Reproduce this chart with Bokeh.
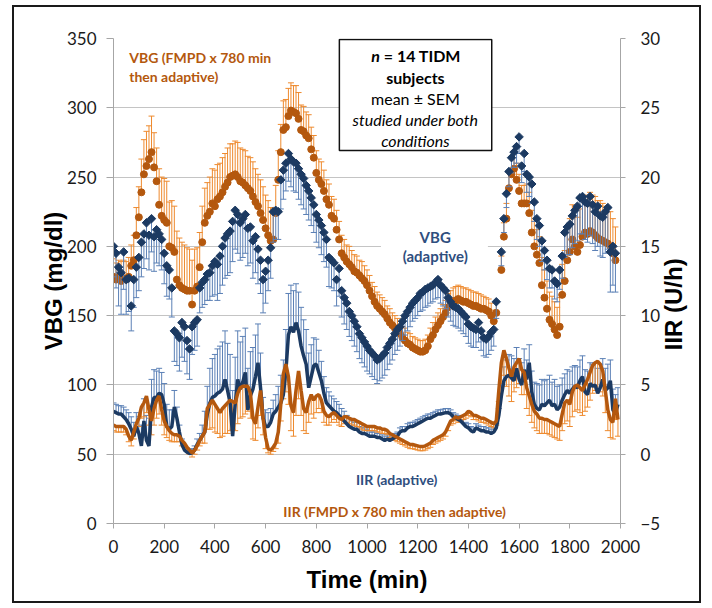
import math
from bokeh.plotting import figure
from bokeh.models import Range1d, LinearAxis, FixedTicker, Label, BoxAnnotation
from bokeh.embed import file_html
from bokeh.resources import INLINE

# ---------------- data ----------------
x_ticks = [0, 200, 400, 600, 800, 1000, 1200, 1400, 1600, 1800, 2000]
vbg_ticks = [0, 50, 100, 150, 200, 250, 300, 350]
iir_ticks = [-5, 0, 5, 10, 15, 20, 25, 30]

# VBG sampling times (min); no samples between 1510 and 1530
vbg_time = list(range(0, 1520, 10)) + list(range(1530, 1990, 10))

# VBG (FMPD x 780 min then adaptive), mg/dl
vbg_fmpd = [
    178, 176, 178, 175, 177, 176, 178, 186, 190, 208,
    221, 239, 252, 258, 263, 268, 257, 247, 230, 222,
    219, 217, 200, 199, 196, 176, 172, 170, 169, 168,
    168, 158, 168, 171, 185, 203, 217, 222, 225, 231,
    229, 234, 236, 239, 243, 246, 250, 251, 252, 250,
    247, 246, 244, 242, 240, 236, 232, 229, 224, 219,
    213, 208, 204, 205, 224, 248, 268, 284, 286, 294,
    298, 297, 296, 292, 284, 283, 280, 278, 270, 264,
    253, 248, 245, 240, 234, 230, 222, 220, 212, 205,
    195, 192, 189, 187, 185, 182, 181, 179, 177, 175,
    172, 168, 164, 160, 157, 155, 153, 151, 148, 145,
    143, 141, 139, 137, 134, 132, 130, 129, 127, 126,
    125, 124, 124, 125, 128, 133, 136, 140, 143, 146,
    149, 152, 156, 158, 160, 161, 162, 161, 160, 160,
    159, 158, 157, 157, 156, 155, 155, 154, 153, 150,
    146, 152,
    183, 207, 220, 242, 252, 256, 248, 240, 231, 231,
    231, 224, 210, 200, 194, 188, 172, 163, 155, 147,
    144, 140, 136, 142, 165, 175, 190, 196, 205, 200,
    196, 201, 207, 210, 209, 211, 210, 208, 206, 205,
    204, 203, 202, 200, 195, 190]
vbg_fmpd_sem = [
    13, 12, 12, 14, 13, 13, 14, 15, 18, 20,
    22, 24, 25, 25, 24, 26, 25, 24, 26, 28,
    30, 30, 32, 34, 33, 35, 34, 33, 32, 31,
    30, 32, 30, 28, 25, 26, 25, 24, 25, 25,
    26, 25, 24, 25, 24, 25, 24, 23, 24, 25,
    24, 24, 25, 23, 24, 25, 24, 23, 24, 24,
    24, 25, 24, 22, 20, 21, 20, 21, 20, 20,
    20, 19, 20, 19, 18, 18, 17, 17, 16, 16,
    16, 15, 16, 15, 14, 15, 14, 14, 14, 13,
    13, 13, 12, 13, 12, 12, 12, 11, 12, 11,
    11, 11, 10, 11, 10, 10, 10, 10, 9, 10,
    9, 9, 9, 9, 8, 9, 8, 8, 8, 8,
    8, 8, 8, 8, 8, 8, 9, 9, 9, 9,
    9, 9, 10, 10, 10, 10, 10, 10, 10, 10,
    10, 10, 10, 10, 10, 10, 9, 9, 9, 9,
    8, 8,
    10, 10, 11, 12, 12, 13, 12, 12, 13, 13,
    14, 15, 16, 18, 18, 19, 20, 20, 20, 20,
    20, 20, 20, 21, 22, 22, 23, 24, 25, 25,
    25, 26, 26, 27, 27, 28, 27, 28, 27, 28,
    27, 26, 26, 25, 25, 24]

# VBG (adaptive), mg/dl
vbg_adapt = [
    200, 195, 185, 181, 196, 176, 177, 157, 176, 185,
    192, 203, 209, 217, 208, 220, 207, 212, 209, 205,
    195, 186, 183, 170, 139, 137, 134, 145, 142, 132,
    126, 142, 145, 147, 170, 174, 176, 180, 181, 186,
    189, 187, 193, 200, 206, 209, 211, 218, 226, 223,
    217, 220, 223, 213, 214, 204, 207, 198, 190, 176,
    182, 190, 199, 225, 226, 225, 248, 255, 260, 267,
    263, 261, 260, 256, 252, 249, 244, 240, 235, 230,
    223, 219, 215, 210, 205, 192, 190, 188, 176, 184,
    168, 163, 159, 153, 150, 146, 142, 137, 134, 131,
    128, 125, 123, 121, 118, 119, 121, 123, 127, 130,
    133, 137, 140, 142, 146, 150, 153, 156, 159, 161,
    163, 166, 167, 169, 170, 171, 172, 174, 176, 172,
    170, 168, 163, 160, 157, 156, 155, 153, 151, 149,
    144, 142, 141, 140, 145, 139, 134, 133, 135, 138,
    140, 160,
    196, 220, 238, 254, 264, 268, 272, 279, 258, 267,
    252, 250, 245, 232, 220, 215, 204, 197, 190, 184,
    183, 175, 173, 183, 193, 210, 214, 216, 222, 226,
    229, 235, 236, 232, 231, 236, 230, 225, 229, 222,
    221, 225, 228, 196, 200, 195]
vbg_adapt_sem = [
    22, 25, 28, 30, 27, 25, 24, 18, 20, 22,
    24, 25, 25, 26, 25, 24, 25, 24, 23, 22,
    22, 22, 21, 21, 22, 23, 24, 25, 25, 24,
    22, 20, 20, 19, 18, 18, 18, 19, 20, 22,
    24, 26, 27, 28, 29, 30, 30, 29, 28, 28,
    27, 28, 28, 27, 26, 27, 26, 25, 24, 24,
    23, 22, 22, 22, 21, 20, 21, 21, 20, 20,
    20, 21, 21, 22, 22, 22, 21, 21, 20, 20,
    20, 20, 21, 21, 20, 21, 20, 20, 19, 20,
    19, 19, 19, 18, 18, 18, 18, 18, 18, 18,
    18, 17, 17, 17, 17, 16, 16, 16, 16, 15,
    15, 15, 15, 14, 14, 14, 14, 14, 13, 13,
    13, 13, 13, 13, 13, 12, 12, 12, 13, 13,
    13, 13, 14, 14, 14, 14, 14, 14, 14, 14,
    14, 14, 14, 13, 14, 14, 13, 13, 13, 13,
    12, 12,
    10, 10, 10, 11, 11, 11, 12, 12, 12, 13,
    13, 14, 14, 14, 15, 15, 15, 14, 14, 14,
    13, 13, 13, 14, 16, 18, 20, 22, 23, 24,
    25, 26, 27, 27, 28, 28, 28, 28, 29, 29,
    29, 30, 30, 29, 28, 28]

# IIR sampling times (min)
iir_time = list(range(0, 2000, 10))

# IIR (adaptive), U/h
iir_adapt = [
    3.1, 3.0, 2.9, 2.9, 2.7, 2.5, 2.2, 1.8, 1.3, 2.0,
    1.5, 0.6, 2.4, 1.0, 0.6, 3.4, 4.1, 4.1, 4.4, 4.3,
    3.6, 2.0, 1.8, 2.0, 3.4, 2.6, 1.6, 0.7, 0.3, 0.15,
    0.05, 0.1, 0.3, 0.7, 1.0, 1.3, 1.6, 2.9, 3.7, 4.1,
    4.2, 4.4, 4.5, 4.7, 5.4, 4.6, 3.7, 1.3, 3.6, 5.4,
    4.7, 5.2, 5.9, 3.2, 4.2, 4.7, 5.6, 6.6, 4.8, 2.6,
    2.0, 2.0, 2.3, 2.9, 3.1, 3.4, 3.7, 4.3, 6.0, 8.6,
    9.2, 8.8, 9.5, 8.9, 7.8, 7.1, 6.5, 4.8, 5.6, 6.4,
    6.5, 5.9, 5.3, 4.4, 3.7, 3.5, 3.3, 3.1, 3.0, 2.8,
    2.6, 2.4, 2.2, 2.0, 1.9, 1.8, 1.8, 1.6, 1.5, 1.5,
    1.4, 1.3, 1.3, 1.3, 1.2, 1.2, 1.1, 1.0, 1.1, 1.0,
    1.1, 1.2, 1.3, 1.6, 1.7, 1.7, 1.9, 2.0, 2.0, 2.1,
    2.2, 2.3, 2.4, 2.5, 2.6, 2.6, 2.7, 2.8, 2.9, 2.9,
    2.95, 3.0, 3.0, 2.9, 2.7, 2.6, 2.5, 2.4, 2.2, 2.0,
    1.9, 1.7, 1.6, 1.9, 1.8, 1.7, 1.7, 1.6, 1.6, 1.5,
    1.6, 1.9, 2.8, 4.2, 5.3, 5.6, 5.7, 5.5, 5.3, 6.2,
    5.4, 5.0, 6.1, 5.4, 6.6, 4.5, 3.6, 3.3, 3.2, 3.6,
    3.5, 3.7, 3.9, 3.5, 3.6, 3.2, 3.4, 3.9, 4.3, 4.6,
    4.4, 4.7, 4.9, 4.8, 5.3, 5.6, 4.5, 4.3, 5.1, 4.9,
    5.0, 4.4, 4.8, 5.4, 4.6, 4.8, 5.3, 3.2, 2.9, 3.6]
iir_adapt_sem = [
    0.6, 0.6, 0.6, 0.6, 0.7, 0.7, 0.8, 0.9, 1.0, 1.0,
    1.2, 1.5, 1.6, 1.8, 2.0, 2.0, 2.0, 1.9, 1.8, 1.6,
    1.5, 1.6, 1.4, 1.2, 1.2, 0.8, 0.5, 0.4, 0.3, 0.3,
    0.3, 0.3, 0.3, 0.4, 0.5, 0.8, 1.5, 2.0, 2.5, 2.8,
    3.0, 3.2, 3.3, 3.4, 3.5, 3.4, 3.5, 3.3, 3.4, 3.5,
    3.4, 3.3, 3.2, 3.0, 3.2, 3.0, 3.0, 2.8, 2.5, 1.5,
    1.2, 1.0, 1.0, 1.0, 1.2, 1.5, 2.0, 2.5, 3.0, 3.0,
    3.0, 3.0, 2.8, 2.8, 2.8, 2.6, 2.5, 2.5, 2.3, 2.0,
    1.8, 1.6, 1.4, 1.2, 1.1, 1.0, 0.9, 0.9, 0.8, 0.8,
    0.7, 0.7, 0.6, 0.6, 0.5, 0.5, 0.5, 0.4, 0.4, 0.4,
    0.4, 0.3, 0.3, 0.3, 0.3, 0.3, 0.3, 0.3, 0.3, 0.3,
    0.3, 0.3, 0.3, 0.3, 0.3, 0.3, 0.3, 0.3, 0.3, 0.3,
    0.3, 0.3, 0.3, 0.3, 0.3, 0.3, 0.3, 0.3, 0.3, 0.3,
    0.3, 0.3, 0.3, 0.3, 0.3, 0.3, 0.3, 0.3, 0.3, 0.3,
    0.3, 0.3, 0.3, 0.3, 0.3, 0.3, 0.3, 0.3, 0.3, 0.3,
    0.3, 0.3, 0.5, 0.8, 1.0, 1.2, 1.5, 1.6, 1.6, 1.5,
    1.5, 1.6, 1.5, 1.4, 1.3, 1.5, 1.6, 1.8, 1.8, 1.8,
    1.8, 1.7, 1.8, 1.7, 1.8, 1.7, 1.6, 1.6, 1.5, 1.5,
    1.6, 1.6, 1.5, 1.5, 1.5, 1.5, 1.6, 1.7, 1.5, 1.6,
    1.6, 1.8, 1.7, 1.5, 1.6, 1.7, 1.5, 1.5, 1.4, 1.2]

# IIR (FMPD x 780 min then adaptive), U/h
iir_fmpd = [
    2.1, 2.0, 2.0, 2.0, 2.0, 1.8, 1.3, 1.0, 1.6, 2.2,
    2.6, 3.4, 3.7, 4.2, 3.2, 2.4, 3.3, 3.9, 4.2, 3.2,
    2.4, 2.0, 1.7, 1.5, 1.4, 1.4, 1.3, 1.0, 0.8, 0.5,
    0.3, 0.1, 0.3, 0.6, 1.0, 1.3, 1.6, 3.3, 3.6, 3.9,
    3.6, 3.3, 3.0, 3.3, 3.5, 3.7, 3.9, 3.8, 3.7, 4.4,
    4.8, 4.9, 4.9, 4.9, 4.4, 2.6, 2.2, 3.4, 4.6, 2.6,
    1.2, 0.4, 0.3, 0.5, 0.8, 1.6, 3.6, 5.8, 6.5, 5.6,
    3.5, 3.0, 4.6, 6.0, 4.6, 3.3, 3.0, 3.8, 4.3, 3.9,
    4.2, 4.3, 3.9, 3.1, 2.8, 2.7, 2.9, 3.0, 2.8, 2.6,
    2.5, 2.7, 2.7, 2.6, 2.5, 2.5, 2.4, 2.3, 2.2, 2.1,
    2.0, 2.0, 2.0, 2.0, 1.9, 1.9, 1.8, 1.8, 1.7, 1.5,
    1.4, 1.3, 1.2, 1.1, 1.0, 0.9, 0.8, 0.7, 0.7, 0.65,
    0.6, 0.55, 0.55, 0.6, 0.7, 0.8, 1.0, 1.1, 1.2, 1.3,
    1.4, 1.6, 2.0, 2.4, 2.5, 2.7, 2.6, 2.7, 2.8, 2.9,
    3.1, 3.0, 2.8, 2.8, 2.7, 2.6, 2.6, 2.5, 2.4, 2.3,
    2.2, 2.4, 4.6, 6.6, 7.5, 6.9, 6.2, 5.6, 6.3, 6.6,
    6.9, 6.1, 5.9, 4.8, 4.2, 3.6, 3.1, 2.9, 2.6, 2.6,
    2.5, 2.5, 2.4, 2.3, 2.2, 2.1, 2.0, 2.9, 3.7, 3.9,
    3.6, 4.5, 4.9, 5.0, 4.8, 4.6, 5.0, 5.4, 5.9, 6.4,
    6.6, 6.7, 6.5, 6.0, 4.6, 3.2, 2.5, 2.3, 4.0, 2.5]
iir_fmpd_sem = [
    0.4, 0.4, 0.4, 0.4, 0.4, 0.4, 0.4, 0.4, 0.5, 0.5,
    0.6, 0.8, 1.0, 1.2, 1.1, 1.0, 1.2, 1.3, 1.3, 1.1,
    1.0, 0.8, 0.7, 0.6, 0.5, 0.5, 0.4, 0.4, 0.3, 0.3,
    0.3, 0.3, 0.3, 0.3, 0.4, 0.5, 0.8, 1.5, 1.8, 2.0,
    2.0, 1.8, 1.8, 2.0, 2.0, 2.2, 2.2, 2.0, 2.0, 2.2,
    2.2, 2.2, 2.0, 1.8, 1.8, 1.5, 1.2, 1.5, 1.8, 1.2,
    0.8, 0.3, 0.3, 0.3, 0.4, 0.8, 1.2, 1.8, 2.0, 2.0,
    1.8, 1.7, 1.8, 2.0, 1.8, 1.6, 1.5, 1.5, 1.4, 1.3,
    1.2, 1.0, 0.9, 0.8, 0.7, 0.6, 0.6, 0.5, 0.5, 0.5,
    0.5, 0.5, 0.4, 0.4, 0.4, 0.4, 0.4, 0.4, 0.4, 0.4,
    0.3, 0.3, 0.3, 0.3, 0.3, 0.3, 0.3, 0.3, 0.3, 0.3,
    0.3, 0.3, 0.3, 0.3, 0.3, 0.3, 0.3, 0.3, 0.3, 0.3,
    0.3, 0.3, 0.3, 0.3, 0.3, 0.3, 0.3, 0.3, 0.3, 0.3,
    0.3, 0.3, 0.3, 0.3, 0.3, 0.3, 0.3, 0.3, 0.3, 0.3,
    0.3, 0.3, 0.3, 0.3, 0.3, 0.3, 0.3, 0.3, 0.3, 0.3,
    0.3, 0.3, 0.8, 1.5, 1.8, 2.0, 2.0, 1.8, 1.8, 1.8,
    1.8, 1.8, 1.6, 1.5, 1.4, 1.3, 1.2, 1.2, 1.1, 1.1,
    1.0, 1.0, 1.0, 1.0, 1.0, 1.0, 1.0, 1.2, 1.5, 1.5,
    1.6, 1.8, 1.8, 1.8, 1.8, 1.8, 1.9, 2.0, 2.0, 2.0,
    2.0, 2.0, 2.0, 1.8, 1.6, 1.5, 1.3, 1.2, 1.5, 1.2]

# ---------------- styling ----------------
ORANGE_DARK = "#B4580E"
ORANGE_BAR = "#EE8A2E"
BLUE_DARK = "#1C3A62"
BLUE_BAR = "#5B80B6"
TXT_ORANGE = "#B4580E"
TXT_BLUE = "#2F4E7E"
AXIS_GRAY = "#A6A6A6"
GRID_GRAY = "#C4C4C4"
TICK_FONT = "Lato"
TITLE_FONT = "Liberation Sans"

W, H = 689, 598
p = figure(width=W, height=H, output_backend="svg", toolbar_location=None,
           x_range=Range1d(0, 2000), y_range=Range1d(0, 350),
           min_border_left=99, min_border_right=78,
           min_border_top=31, min_border_bottom=82)
p.margin = (5, 0, 0, 12)
p.styles = {"border": "2px solid #1a1a1a"}
p.extra_y_ranges = {"iir": Range1d(-5, 30)}
p.outline_line_color = None
p.background_fill_color = "white"
p.border_fill_color = "white"

p.xgrid.visible = False
p.ygrid.ticker = FixedTicker(ticks=vbg_ticks)
p.ygrid.grid_line_color = GRID_GRAY
p.ygrid.grid_line_width = 1


def style_axis(ax, ticks, label, tick_out, standoff, label_standoff):
    ax.ticker = FixedTicker(ticks=ticks)
    ax.axis_label = label
    ax.axis_line_color = AXIS_GRAY
    ax.major_tick_line_color = AXIS_GRAY
    ax.major_tick_out = tick_out
    ax.major_tick_in = 0
    ax.minor_tick_out = 0
    ax.minor_tick_in = 0
    ax.major_label_text_font = TICK_FONT
    ax.major_label_text_font_size = "17px"
    ax.major_label_text_color = "#1a1a1a"
    ax.major_label_standoff = standoff
    ax.axis_label_text_font = TITLE_FONT
    ax.axis_label_text_font_size = "24px"
    ax.axis_label_text_font_style = "bold"
    ax.axis_label_text_color = "#000000"
    ax.axis_label_standoff = label_standoff


style_axis(p.xaxis[0], x_ticks, "Time (min)", 5, 11, 10)
style_axis(p.yaxis[0], vbg_ticks, "VBG (mg/dl)", 7, 10, -3)
right_axis = LinearAxis(y_range_name="iir")
style_axis(right_axis, iir_ticks, None, 5, 15, 10)
p.add_layout(right_axis, "right")

# right-hand title, reading bottom-to-top like the left one: drawn as the
# single (rotated) tick label of a bare outer axis
title_tick = 7.5
title_axis = LinearAxis(y_range_name="iir",
                        ticker=FixedTicker(ticks=[title_tick]),
                        major_label_overrides={title_tick: "IIR (U/h)"})
title_axis.axis_line_color = None
title_axis.major_tick_line_color = None
title_axis.minor_tick_line_color = None
title_axis.major_tick_out = 0
title_axis.major_tick_in = 0
title_axis.major_label_standoff = 10
title_axis.major_label_orientation = math.pi / 2
title_axis.major_label_text_font = TITLE_FONT
title_axis.major_label_text_font_size = "24px"
title_axis.major_label_text_font_style = "bold"
title_axis.major_label_text_color = "#000000"
p.add_layout(title_axis, "right")


def error_bars(x, y, dy, direction, color, range_name="default"):
    ends = [a + direction * b for a, b in zip(y, dy)]
    xs = x[:len(ends)]
    ys = y[:len(ends)]
    p.segment(x0=xs, y0=ys, x1=xs, y1=ends, line_color=color, line_width=1,
              y_range_name=range_name)
    p.scatter(x=xs, y=ends, marker="dash", size=6, line_color=color,
              line_width=1, y_range_name=range_name)


# IIR error bars and lines (right axis)
error_bars(iir_time, iir_adapt, iir_adapt_sem, +1, BLUE_BAR, "iir")
error_bars(iir_time, iir_fmpd, iir_fmpd_sem, -1, ORANGE_BAR, "iir")
p.line(iir_time, iir_adapt, line_color=BLUE_DARK, line_width=3.5,
       y_range_name="iir")
p.line(iir_time, iir_fmpd, line_color=ORANGE_DARK, line_width=3.5,
       y_range_name="iir")

# VBG error bars and markers (left axis)
error_bars(vbg_time, vbg_fmpd, vbg_fmpd_sem, +1, ORANGE_BAR)
p.scatter(vbg_time[:len(vbg_fmpd)], vbg_fmpd, marker="circle", size=7,
          fill_color=ORANGE_DARK, line_color=ORANGE_DARK)
error_bars(vbg_time, vbg_adapt, vbg_adapt_sem, -1, BLUE_BAR)
p.scatter(vbg_time[:len(vbg_adapt)], vbg_adapt, marker="square", size=6,
          angle=math.pi / 4, fill_color=BLUE_DARK, line_color=BLUE_DARK)


# ---------------- annotations ----------------
def add_label(x, y, text, color, size="14px", style="bold", align="center",
              font=TICK_FONT):
    p.add_layout(Label(x=x, y=y, text=text, text_color=color,
                       text_font=font, text_font_size=size,
                       text_font_style=style, text_align=align,
                       text_baseline="middle"))


add_label(62, 336.3, "VBG (FMPD x 780 min", TXT_ORANGE, align="left")
add_label(62, 322.6, "then adaptive)", TXT_ORANGE, align="left")

# gap in the 200 gridline behind the "VBG (adaptive)" label
p.add_layout(BoxAnnotation(left=1055, right=1477, bottom=197, top=203,
                           fill_color="white", fill_alpha=1, line_color=None))
add_label(1269, 206.4, "VBG", TXT_BLUE, size="15px")
add_label(1269, 193.4, "(adaptive)", TXT_BLUE, size="15px")

add_label(1117, 31.8, "IIR (adaptive)", TXT_BLUE, size="14px")
add_label(1109, 8.7, "IIR (FMPD x 780 min then adaptive)", TXT_ORANGE,
          size="14px")

# boxed note
p.add_layout(BoxAnnotation(left=891, right=1492, bottom=269.2, top=349.3,
                           fill_color="white", fill_alpha=1,
                           line_color="#111111", line_width=1.5,
                           line_alpha=1))
add_label(1051, 337.7, "n", "#000000", size="16px", style="bold italic",
          align="right")
add_label(1066, 337.7, "= 14 TIDM", "#000000", size="16px", style="bold",
          align="left")
add_label(1191, 321.8, "subjects", "#000000", size="16px", style="bold")
add_label(1191, 306.7, "mean \u00b1 SEM", "#000000", size="16px",
          style="normal")
add_label(1191, 291.5, "studied under both", "#000000", size="16px",
          style="italic")
add_label(1191, 276.4, "conditions", "#000000", size="16px", style="italic")

open("out.html", "w").write(file_html(p, INLINE))
